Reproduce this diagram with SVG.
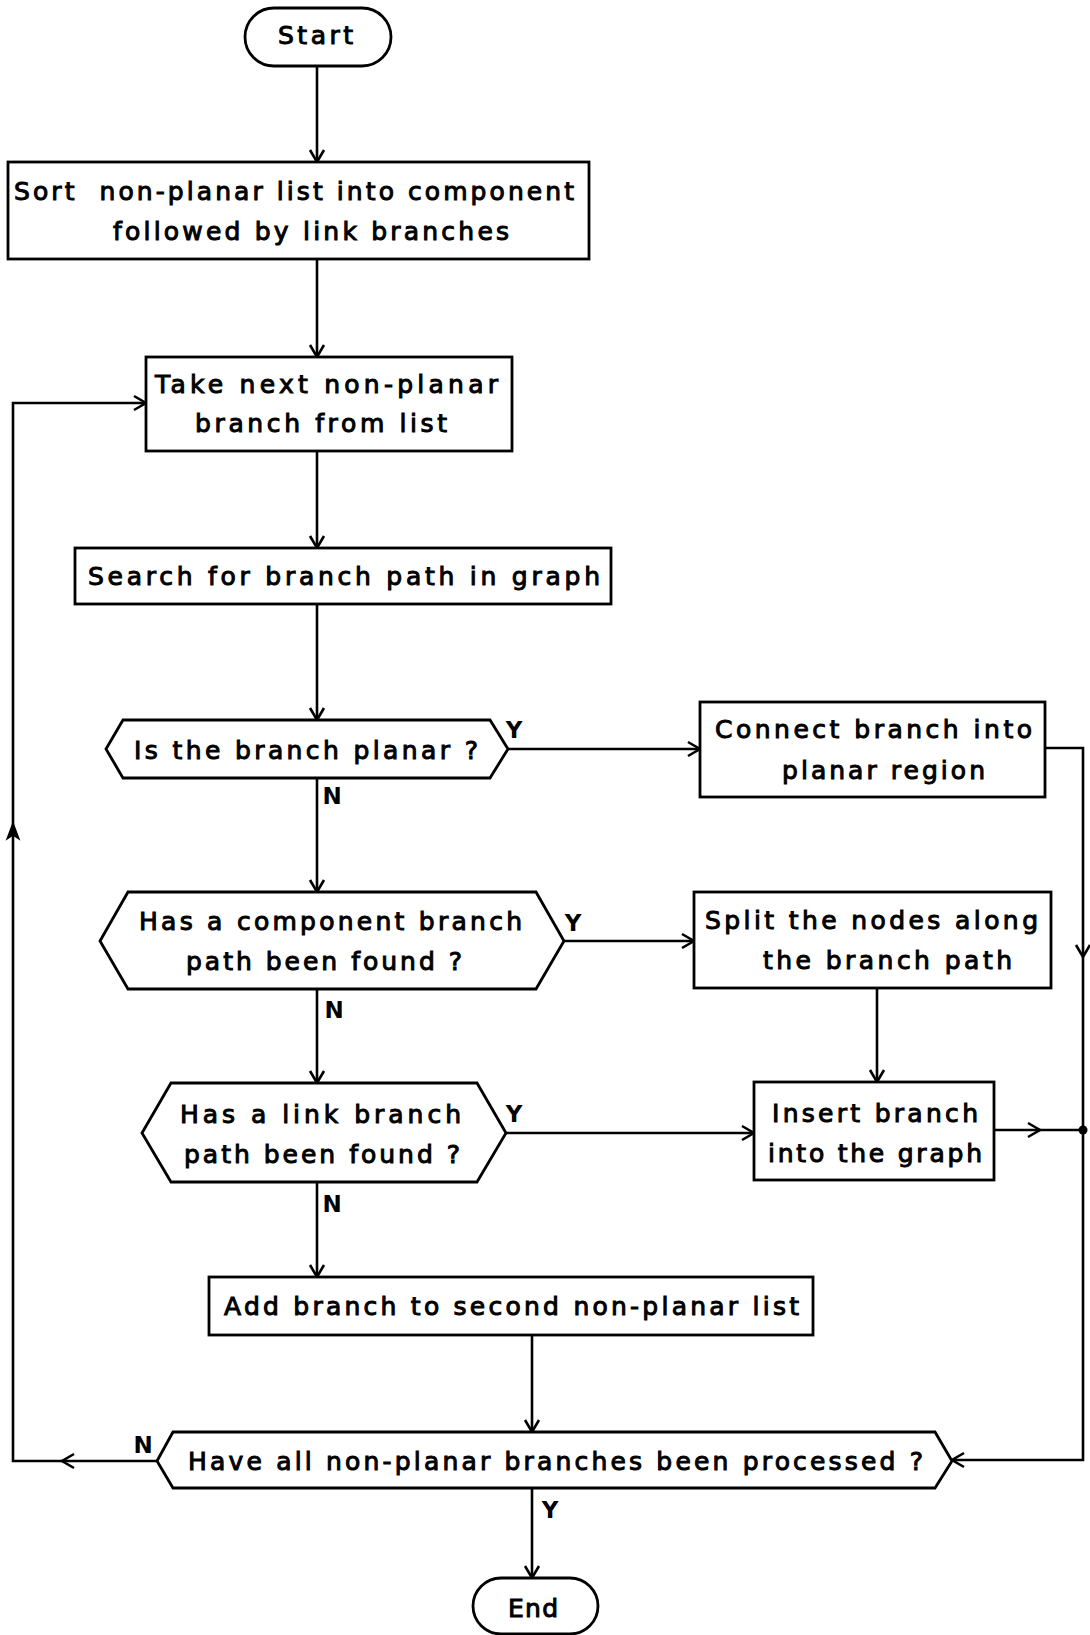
<svg xmlns="http://www.w3.org/2000/svg" width="1090" height="1635" viewBox="0 0 1090 1635">
  <defs>
    <marker id="arr" viewBox="-14 -9 17 18" markerWidth="17" markerHeight="18" refX="0" refY="0" orient="auto" markerUnits="userSpaceOnUse">
      <path d="M -12 -7 L 0 0 L -12 7" fill="none" stroke="#000" stroke-width="2.6"/>
    </marker>
    <path id="ah" d="M -12 -7 L 0 0 L -12 7" fill="none" stroke="#000" stroke-width="2.6"/>
    <path id="ahSolid" d="M 0 0 L -16 -6 L -12 0 L -16 6 Z" fill="#000" stroke="#000" stroke-width="1.4"/>
  </defs>
  <style>
    .box{fill:#fff;stroke:#000;stroke-width:2.8;stroke-linejoin:miter}
    .t{font-family:"DejaVu Sans","Liberation Sans",sans-serif;font-size:25px;fill:#000;stroke:#000;stroke-width:1;white-space:pre}
    .lbl{font-family:"DejaVu Sans","Liberation Sans",sans-serif;font-size:23px;font-weight:bold;fill:#000}
    .c{fill:none;stroke:#000;stroke-width:2.6}
  </style>
  <rect width="1090" height="1635" fill="#fff"/>

  <!-- connectors -->
  <g id="connectors" class="c">
    <path d="M317 66 V162" marker-end="url(#arr)"/>
    <path d="M317 259 V357" marker-end="url(#arr)"/>
    <path d="M317 451 V548" marker-end="url(#arr)"/>
    <path d="M317 604 V720" marker-end="url(#arr)"/>
    <path d="M508 749 H700" marker-end="url(#arr)"/>
    <path d="M317 778 V892" marker-end="url(#arr)"/>
    <path d="M564 941 H694" marker-end="url(#arr)"/>
    <path d="M317 989 V1083" marker-end="url(#arr)"/>
    <path d="M877 988 V1082" marker-end="url(#arr)"/>
    <path d="M506 1133 H754" marker-end="url(#arr)"/>
    <path d="M317 1182 V1277" marker-end="url(#arr)"/>
    <path d="M532 1335 V1432" marker-end="url(#arr)"/>
    <path d="M532 1488 V1578" marker-end="url(#arr)"/>
    <!-- loop back for the next branch -->
    <path d="M157 1461 H13 V403 H146" marker-end="url(#arr)"/>
    <use href="#ah" transform="translate(62,1461) rotate(180)"/>
    <use href="#ahSolid" transform="translate(13,823) rotate(-90)"/>
    <!-- return bus on the right -->
    <path d="M1045 748 H1083 V1460 H952" marker-end="url(#arr)"/>
    <use href="#ah" transform="translate(1083,957) rotate(90)"/>
    <path d="M994 1130 H1083"/>
    <use href="#ah" transform="translate(1040,1130)"/>
    <circle cx="1083" cy="1130" r="4.5" fill="#000" stroke="none"/>
    <!-- branch labels -->
    <text class="lbl" x="514" y="738" text-anchor="middle" stroke="none">Y</text>
    <text class="lbl" x="332" y="804" text-anchor="middle" stroke="none">N</text>
    <text class="lbl" x="573" y="931" text-anchor="middle" stroke="none">Y</text>
    <text class="lbl" x="334" y="1018" text-anchor="middle" stroke="none">N</text>
    <text class="lbl" x="514" y="1122" text-anchor="middle" stroke="none">Y</text>
    <text class="lbl" x="332" y="1212" text-anchor="middle" stroke="none">N</text>
    <text class="lbl" x="143" y="1453" text-anchor="middle" stroke="none">N</text>
    <text class="lbl" x="550" y="1518" text-anchor="middle" stroke="none">Y</text>
  </g>

  <g id="start">
    <rect class="box" x="245" y="8" width="146" height="58" rx="29"/>
    <text class="t" x="278" y="44" textLength="75" lengthAdjust="spacing">Start</text>
  </g>

  <g id="sort">
    <rect class="box" x="8" y="162" width="581" height="97"/>
    <text class="t" x="14" y="200" textLength="560" lengthAdjust="spacing">Sort  non-planar list into component</text>
    <text class="t" x="113" y="240" textLength="396" lengthAdjust="spacing">followed by link branches</text>
  </g>

  <g id="take">
    <rect class="box" x="146" y="357" width="366" height="94"/>
    <text class="t" x="155" y="393" textLength="343" lengthAdjust="spacing">Take next non-planar</text>
    <text class="t" x="195" y="432" textLength="252" lengthAdjust="spacing">branch from list</text>
  </g>

  <g id="search">
    <rect class="box" x="75" y="548" width="536" height="56"/>
    <text class="t" x="88" y="585" textLength="512" lengthAdjust="spacing">Search for branch path in graph</text>
  </g>

  <g id="is-planar">
    <polygon class="box" points="106,749 123,720 490,720 508,749 490,778 123,778"/>
    <text class="t" x="134" y="759" textLength="344" lengthAdjust="spacing">Is the branch planar ?</text>
  </g>

  <g id="connect">
    <rect class="box" x="700" y="702" width="345" height="95"/>
    <text class="t" x="715" y="738" textLength="317" lengthAdjust="spacing">Connect branch into</text>
    <text class="t" x="782" y="779" textLength="203" lengthAdjust="spacing">planar region</text>
  </g>

  <g id="component-found">
    <polygon class="box" points="100,941 128,892 536,892 564,941 536,989 128,989"/>
    <text class="t" x="139" y="930" textLength="383" lengthAdjust="spacing">Has a component branch</text>
    <text class="t" x="186" y="970" textLength="276" lengthAdjust="spacing">path been found ?</text>
  </g>

  <g id="split">
    <rect class="box" x="694" y="892" width="357" height="96"/>
    <text class="t" x="705" y="929" textLength="333" lengthAdjust="spacing">Split the nodes along</text>
    <text class="t" x="763" y="969" textLength="249" lengthAdjust="spacing">the branch path</text>
  </g>

  <g id="link-found">
    <polygon class="box" points="142,1133 171,1083 477,1083 506,1133 477,1182 171,1182"/>
    <text class="t" x="180" y="1123" textLength="281" lengthAdjust="spacing">Has a link branch</text>
    <text class="t" x="184" y="1163" textLength="276" lengthAdjust="spacing">path been found ?</text>
  </g>

  <g id="insert">
    <rect class="box" x="754" y="1082" width="240" height="98"/>
    <text class="t" x="772" y="1122" textLength="206" lengthAdjust="spacing">Insert branch</text>
    <text class="t" x="768" y="1162" textLength="214" lengthAdjust="spacing">into the graph</text>
  </g>

  <g id="add">
    <rect class="box" x="209" y="1277" width="604" height="58"/>
    <text class="t" x="224" y="1315" textLength="575" lengthAdjust="spacing">Add branch to second non-planar list</text>
  </g>

  <g id="all-processed">
    <polygon class="box" points="157,1461 173,1432 935,1432 952,1461 935,1488 173,1488"/>
    <text class="t" x="188" y="1470" textLength="735" lengthAdjust="spacing">Have all non-planar branches been processed ?</text>
  </g>

  <g id="end">
    <rect class="box" x="473" y="1578" width="125" height="56" rx="28"/>
    <text class="t" x="508" y="1617" textLength="50" lengthAdjust="spacing">End</text>
  </g>
</svg>
